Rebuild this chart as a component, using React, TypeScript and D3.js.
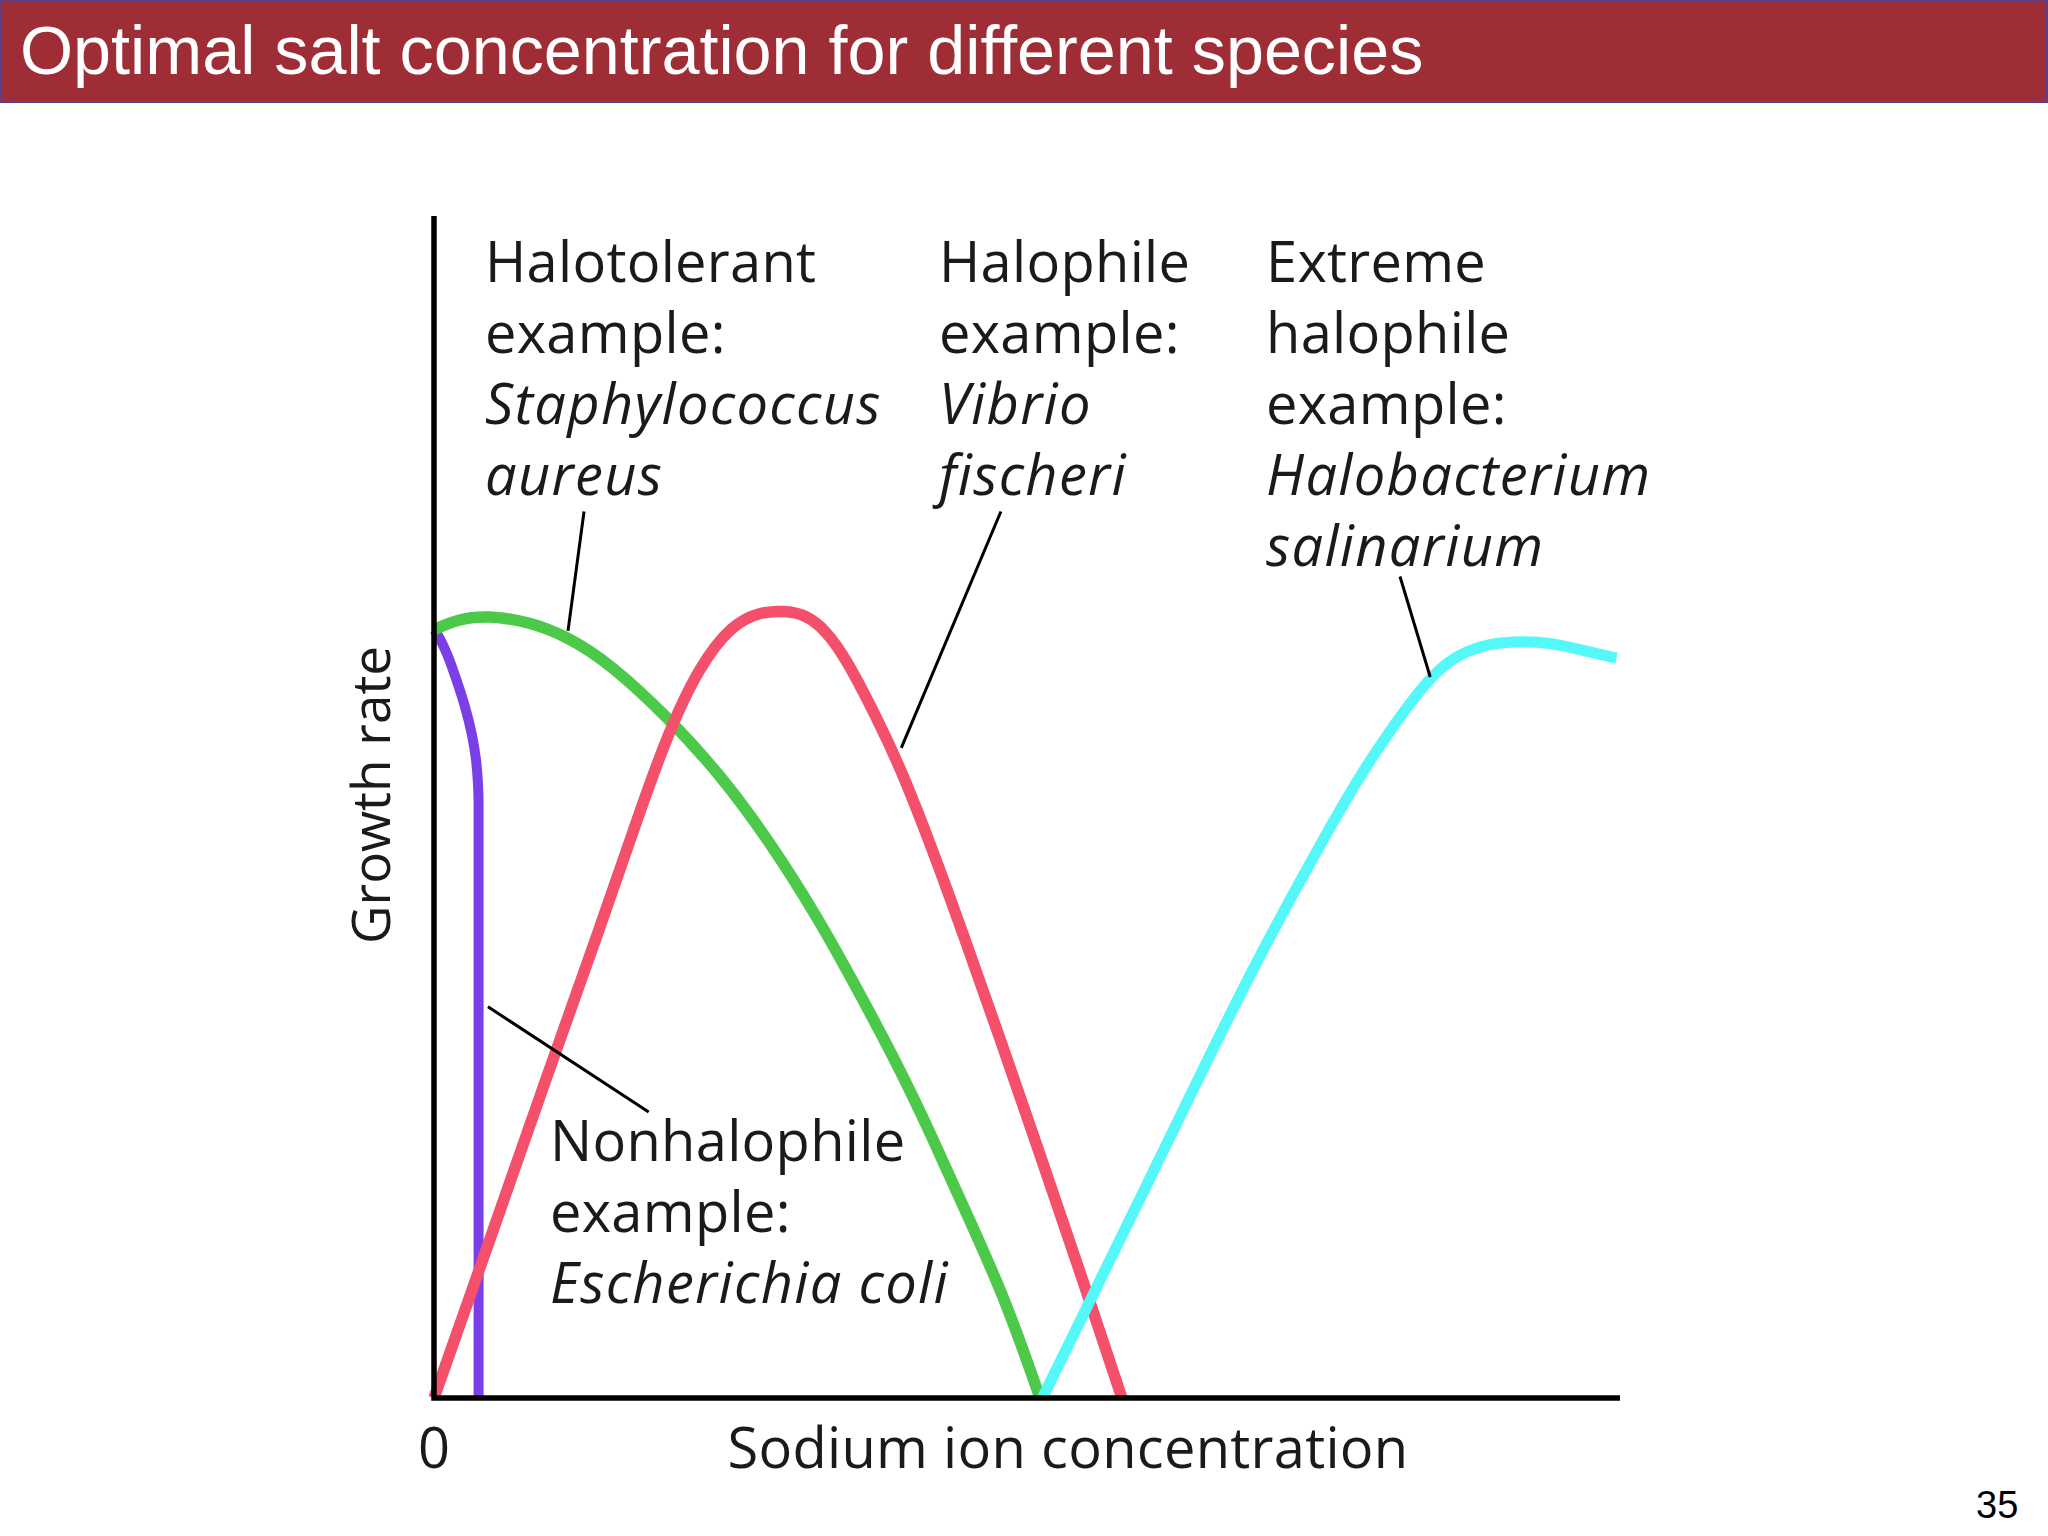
import React from "react";
import * as d3 from "d3";

// ---- data (x: sodium ion concentration, y: growth rate; arbitrary 0-100 units) ----
const nonhalophile: [number, number][] = [
  [0, 65], [0.23, 64.7], [1.07, 63.0], [1.91, 60.7], [2.61, 58.5], [3.18, 56.2], [3.54, 54.0],
  [3.72, 51.7], [3.76, 50.0], [3.76, 45], [3.76, 0],
];
const halotolerant: [number, number][] = [
  [0, 65], [2, 65.9], [4.5, 66.2], [8, 65.7], [11.3, 64.4], [15, 62.0], [19.6, 57.7], [24.1, 52.8],
  [28.3, 47.1], [32.5, 40.4], [35.3, 35.3], [39, 28.4], [42, 22.1], [45, 15.4], [48.2, 8.3], [51.1, 0],
];
const halophile: [number, number][] = [
  [0, 0], [5, 14.2], [9.5, 27.2], [14, 39.8], [16.8, 48.0], [19.6, 56.0], [22.4, 62.0], [25.2, 65.5],
  [27.5, 66.5], [29.5, 66.6], [31.3, 66.3], [33, 65.0], [34.8, 62.5], [37.6, 57.0], [39.5, 52.9],
  [42, 46.5], [44.6, 39.3], [47.7, 30.5], [51.3, 20.0], [54.7, 10.0], [58.0, 0],
];
const extremeHalophile: [number, number][] = [
  [51.3, 0], [55, 7.6], [60, 17.8], [65, 28.2], [69.6, 37.4], [73, 43.7], [76.4, 49.8], [78.5, 53.3],
  [80.5, 56.3], [82.3, 58.8], [84.0, 60.9], [85.5, 62.3], [87.1, 63.2], [89, 63.8], [91, 64.0],
  [93, 64.0], [95.5, 63.6], [97.5, 63.1], [99.7, 62.6],
];

const seriesNames = ["Nonhalophile", "Halotolerant", "Halophile", "Extreme halophile"];
const seriesColors = ["#7A3FE6", "#4DC94A", "#F5506B", "#55F8F8"];
const seriesData = [nonhalophile, halotolerant, halophile, extremeHalophile];
const seriesWidths = [10, 11.5, 11.5, 11];

// pointer lines from label to curve, in data units
const pointers: [number, number, number, number][] = [
  [12.65, 75.0, 11.3, 64.9],
  [47.8, 75.0, 39.4, 55.0],
  [81.45, 69.5, 84.0, 61.0],
  [4.55, 33.1, 18.1, 24.2],
];

type Line = { text: string; italic?: boolean };
const labelBlocks: { x: number; y: number; lines: Line[] }[] = [
  { x: 485, y: 282, lines: [{ text: "Halotolerant" }, { text: "example:" }, { text: "Staphylococcus", italic: true }, { text: "aureus", italic: true }] },
  { x: 939, y: 282, lines: [{ text: "Halophile" }, { text: "example:" }, { text: "Vibrio", italic: true }, { text: "fischeri", italic: true }] },
  { x: 1266, y: 282, lines: [{ text: "Extreme" }, { text: "halophile" }, { text: "example:" }, { text: "Halobacterium", italic: true }, { text: "salinarium", italic: true }] },
  { x: 550, y: 1161, lines: [{ text: "Nonhalophile" }, { text: "example:" }, { text: "Escherichia coli", italic: true }] },
];

const xTickLabels = ["0"];
const xAxisTitle = "Sodium ion concentration";
const yAxisTitle = "Growth rate";
const title = "Optimal salt concentration for different species";
const pageNumber = "35";

export default function App() {
  const W = 2048, H = 1536;
  const x = d3.scaleLinear().domain([0, 100]).range([434, 1620]);
  const y = d3.scaleLinear().domain([0, 100]).range([1398, 216]);
  const smooth = d3
    .line<[number, number]>()
    .x((d) => x(d[0]))
    .y((d) => y(d[1]))
    .curve(d3.curveBasis);
  const vertical = d3
    .line<[number, number]>()
    .x((d) => x(d[0]))
    .y((d) => y(d[1]))
    .curve(d3.curveCatmullRom.alpha(0.5));

  const font = "'Open Sans', Lato, sans-serif";
  const fw = 400;
  const fs = 56;
  const lh = 71;
  const ink = "#1a1a1a";
  const lsRegular = 0.3;
  const lsItalic = 1.3;

  return (
    <svg width={W} height={H} style={{ position: "absolute", left: 0, top: 0, background: "#fff" }}>
      <rect x={0} y={0} width={W} height={H} fill="#ffffff" />
      {/* title bar */}
      <rect x={1} y={1} width={W - 2} height={101} fill="#9E2D36" stroke="#5B4290" strokeWidth={2} />
      <text x={20} y={74} fill="#ffffff" fontFamily="'Liberation Sans', Arial, sans-serif" fontSize={68.3}>
        {title}
      </text>

      {/* curves */}
      {seriesData.map((d, i) => (
        <path
          key={seriesNames[i]}
          d={(i === 0 ? vertical(d) : smooth(d)) || ""}
          fill="none"
          stroke={seriesColors[i]}
          strokeWidth={seriesWidths[i]}
          strokeLinecap="butt"
          strokeLinejoin="round"
        />
      ))}

      {/* axes */}
      <path
        d={`M${x(0)},${y(100)}V${y(0)}H${x(100)}`}
        fill="none"
        stroke="#000"
        strokeWidth={5.5}
        strokeLinejoin="miter"
      />

      {/* pointer lines */}
      {pointers.map((p, i) => (
        <line key={i} x1={x(p[0])} y1={y(p[1])} x2={x(p[2])} y2={y(p[3])} stroke="#000" strokeWidth={3} />
      ))}

      {/* labels */}
      {labelBlocks.map((b, i) => (
        <text key={i} fontFamily={font} fontWeight={fw} fontSize={fs} fill={ink}>
          {b.lines.map((l, j) => (
            <tspan
              key={j}
              x={b.x}
              y={b.y + j * lh}
              fontStyle={l.italic ? "italic" : "normal"}
              letterSpacing={l.italic ? lsItalic : lsRegular}
            >
              {l.text}
            </tspan>
          ))}
        </text>
      ))}

      {/* axis labels */}
      {xTickLabels.map((t) => (
        <text key={t} x={x(0)} y={1468} textAnchor="middle" fontFamily={font} fontWeight={fw} fontSize={fs} fill={ink}>
          {t}
        </text>
      ))}
      <text
        x={1068}
        y={1468}
        textAnchor="middle"
        fontFamily={font}
        fontWeight={fw}
        fontSize={fs}
        letterSpacing={lsRegular}
        fill={ink}
      >
        {xAxisTitle}
      </text>
      <text
        transform={`translate(390,795) rotate(-90)`}
        textAnchor="middle"
        fontFamily={font}
        fontWeight={fw}
        fontSize={53}
        fill={ink}
      >
        {yAxisTitle}
      </text>

      <text x={1976} y={1518} fontFamily="'Liberation Sans', Arial, sans-serif" fontSize={38} fill="#000">
        {pageNumber}
      </text>
    </svg>
  );
}
